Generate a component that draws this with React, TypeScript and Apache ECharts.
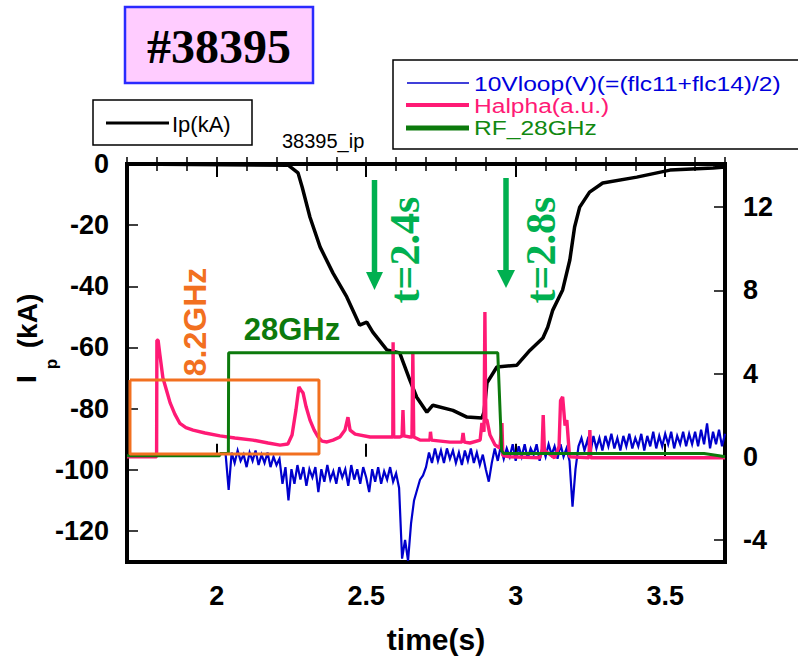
import React, { useEffect, useRef } from 'react';
import * as echarts from 'echarts';

// ---- data ----
const timeLabels = [2, 2.5, 3, 3.5];
const ipTicks = [-120, -100, -80, -60, -40, -20, 0];
const rightTicks = [-4, 0, 4, 8, 12];

// Ip (kA), left axis: [time s, kA]
const ipPoints: [number, number][] = [
  [1.70, 0], [2.239, -0.4], [2.272, -2.9], [2.286, -7.6], [2.312, -17.4], [2.346, -27.2],
  [2.389, -35.7], [2.435, -43.5], [2.478, -52.7], [2.502, -51.7], [2.522, -55.0], [2.569, -60.8],
  [2.612, -61.8], [2.646, -70.7], [2.669, -76.3], [2.703, -81.2], [2.723, -78.9], [2.790, -80.6],
  [2.837, -82.8], [2.887, -83.1], [2.894, -81.2], [2.904, -71.6], [2.937, -66.4], [3.004, -65.8],
  [3.048, -60.9], [3.091, -56.9], [3.107, -53.4], [3.124, -47.8], [3.157, -41.2], [3.181, -31.4],
  [3.197, -20.6], [3.214, -14.1], [3.247, -9.2], [3.291, -6.2], [3.405, -4.3], [3.516, -2.0],
  [3.660, -1.3], [3.70, -1.0],
];

// Halpha (a.u.), right axis
const halphaPoints: [number, number][] = [
  [1.70, 0.0], [1.75, 0.0], [1.799, 0.0], [1.80, 5.6], [1.804, 5.6], [1.81, 4.9], [1.82, 3.8],
  [1.834, 3.1], [1.844, 2.6], [1.86, 2.05], [1.877, 1.6], [1.897, 1.4], [1.921, 1.28], [1.961, 1.14],
  [2.011, 1.0], [2.061, 0.9], [2.121, 0.8], [2.172, 0.66], [2.212, 0.56], [2.238, 0.61], [2.252, 1.04],
  [2.265, 2.24], [2.275, 3.35], [2.282, 3.2], [2.289, 3.06], [2.299, 2.4], [2.312, 1.76], [2.326, 1.28],
  [2.339, 0.95], [2.352, 0.75], [2.369, 0.71], [2.389, 0.8], [2.412, 0.95], [2.429, 1.28], [2.439, 1.9],
  [2.446, 1.28], [2.463, 1.09], [2.513, 0.95], [2.546, 0.95], [2.586, 0.95], [2.589, 0.95], [2.590, 5.5],
  [2.592, 0.95], [2.613, 0.95], [2.620, 1.0], [2.623, 2.24], [2.626, 1.0], [2.646, 0.95], [2.653, 0.95],
  [2.656, 4.98], [2.659, 0.95], [2.68, 0.8], [2.713, 0.8], [2.715, 1.2], [2.718, 0.8], [2.78, 0.7],
  [2.82, 0.7], [2.824, 1.14], [2.828, 0.7], [2.847, 0.66], [2.881, 0.8], [2.887, 1.62], [2.894, 1.2],
  [2.897, 6.95], [2.900, 1.8], [2.904, 1.76], [2.914, 1.04], [2.931, 0.56], [2.947, 0.42], [2.954, 1.62],
  [2.957, 0.05], [2.98, 0.0], [3.08, -0.05], [3.088, 0.3], [3.092, 2.0], [3.096, 0.3], [3.13, -0.05],
  [3.145, 0.5], [3.150, 2.7], [3.157, 2.88], [3.165, 1.5], [3.171, 1.76], [3.18, 0.0], [3.245, -0.05],
  [3.248, 1.28], [3.251, -0.05], [3.70, -0.05],
];

// RF 28GHz, right axis
const rfPoints: [number, number][] = [
  [1.70, 0.05], [2.01, 0.05], [2.012, 0.15], [2.039, 0.15], [2.040, 5.0], [2.940, 5.0],
  [2.953, 0.3], [2.96, 0.15], [3.63, 0.15], [3.68, 0.05], [3.70, 0.0],
];

// 10Vloop (V), right axis, sampled every 0.01 s from 2.03 s
const vloopStart = 2.03;
const vloopStep = 0.01;
const vloopValues = [
  0.1, -1.6, 0.2, -0.3, 0.3, -0.2, 0.1, -0.5, 0.2, -0.2,
  0.3, -0.4, 0.1, -0.3, 0.2, -0.5, 0.0, -0.4, -0.1, -1.3,
  -0.5, -2.1, -0.6, -1.3, -0.4, -1.1, -0.5, -1.4, -0.6, -1.0,
  -0.5, -1.7, -0.6, -1.2, -0.4, -1.1, -0.7, -1.3, -0.5, -1.0,
  -0.6, -1.4, -0.4, -1.1, -0.6, -1.3, -0.5, -1.0, -1.7, -0.6,
  -1.2, -0.5, -1.3, -0.7, -1.1, -0.5, -1.2, -0.8, -1.5, -4.9,
  -4.0, -5.0, -3.2, -2.1, -1.6, -1.1, -0.9, -0.5, 0.2, -0.3,
  0.4, -0.2, 0.3, -0.3, 0.4, -0.1, 0.3, -0.3, 0.2, -0.4,
  0.3, -0.2, 0.4, -0.3, 0.2, -0.4, 0.1, -0.6, -1.2, -0.3,
  0.4, -0.2, 0.5, -0.1, 0.4, 0.0, 0.6, -0.2, 0.5, 0.0,
  0.6, -0.1, 0.4, 0.1, 0.6, -0.2, 0.5, 0.0, 0.6, 0.1,
  0.5, -0.1, 0.6, 0.0, 0.4, -0.2, -2.4, -0.6, 0.5, 0.9,
  0.3, 0.8, 0.2, 1.0, 0.4, 0.9, 0.3, 1.0, 0.5, 1.1,
  0.4, 0.9, 0.3, 1.0, 0.5, 1.1, 0.4, 0.9, 0.5, 1.1,
  0.3, 1.0, 0.5, 1.2, 0.4, 1.0, 0.5, 1.1, 0.6, 1.2,
  0.4, 1.0, 0.6, 1.2, 0.5, 1.1, 0.6, 1.2, 0.5, 1.3,
  0.6, 1.6, 0.4, 1.2, 0.6, 1.3, 0.5, 1.1,
];

// 8.2GHz window box, right axis: [time, value]
const box82Points: [number, number][] = [
  [1.71, 3.69], [2.342, 3.69], [2.342, 0.13], [1.71, 0.13], [1.71, 3.69],
];

const C_BLUE = '#0000cc';
const C_PINK = '#ff1a75';
const C_GREEN = '#0c7a0c';
const C_ORANGE = '#f27020';
const C_ARROW = '#00b050';
const SANS = '"Liberation Sans", Arial, sans-serif';
const SERIF = '"Liberation Serif", "Times New Roman", serif';

export default function App() {
  const ref = useRef<HTMLDivElement>(null);
  useEffect(() => {
    const chart = echarts.init(ref.current!, null, { renderer: 'svg' });
    const vloopData = vloopValues.map((v, i) => [vloopStart + i * vloopStep, v]);
    const isHalf = (v: number) => Math.abs(v * 2 - Math.round(v * 2)) < 1e-6;
    const xBase = {
      type: 'value', min: 1.7, max: 3.7,
      axisLine: { show: false }, splitLine: { show: false },
    };
    const legendFont = `21px ${SANS}`;
    const option: any = {
      animation: false,
      backgroundColor: '#fff',
      grid: {
        left: 127, top: 164, right: 73, bottom: 94,
        show: true, borderColor: '#000', borderWidth: 4, backgroundColor: 'transparent',
      },
      xAxis: [
        { ...xBase, position: 'bottom', interval: 0.1,
          axisTick: { inside: true, length: 7, lineStyle: { color: '#000', width: 1.5 } },
          axisLabel: { show: false } },
        { ...xBase, position: 'bottom',
          axisTick: { inside: true, length: 13, customValues: timeLabels, lineStyle: { color: '#000', width: 2 } },
          axisLabel: { customValues: timeLabels, margin: 20, color: '#000', fontSize: 27, fontWeight: 'bold', fontFamily: SANS,
            formatter: (v: number) => (isHalf(v) ? String(v) : '') } },
        { ...xBase, position: 'top', interval: 0.1,
          axisTick: { inside: true, length: 7, lineStyle: { color: '#000', width: 1.5 } },
          axisLabel: { show: false } },
        { ...xBase, position: 'top',
          axisTick: { inside: true, length: 13, customValues: timeLabels, lineStyle: { color: '#000', width: 2 } },
          axisLabel: { show: false } },
      ],
      yAxis: [
        { type: 'value', position: 'left', min: -130.2, max: 0,
          axisLine: { show: false }, splitLine: { show: false },
          axisTick: { inside: true, length: 11, customValues: ipTicks, lineStyle: { color: '#000', width: 1.5 } },
          axisLabel: { customValues: ipTicks, margin: 18, color: '#000', fontSize: 27, fontWeight: 'bold', fontFamily: SANS } },
        { type: 'value', position: 'right', min: -5.06, max: 14.07,
          axisLine: { show: false }, splitLine: { show: false },
          axisTick: { inside: true, length: 11, customValues: rightTicks, lineStyle: { color: '#000', width: 1.5 } },
          axisLabel: { customValues: rightTicks, margin: 18, color: '#000', fontSize: 27, fontWeight: 'bold', fontFamily: SANS } },
      ],
      series: [
        { name: '10Vloop(V)(=(flc11+flc14)/2)', type: 'line', xAxisIndex: 0, yAxisIndex: 1, data: vloopData,
          showSymbol: false, symbol: 'none', z: 2, lineStyle: { color: C_BLUE, width: 2.2, join: 'miter' } },
        { name: 'Ip(kA)', type: 'line', xAxisIndex: 0, yAxisIndex: 0, data: ipPoints,
          showSymbol: false, symbol: 'none', z: 3, lineStyle: { color: '#000', width: 3.5 } },
        { name: 'Halpha(a.u.)', type: 'line', xAxisIndex: 0, yAxisIndex: 1, data: halphaPoints,
          showSymbol: false, symbol: 'none', z: 4, lineStyle: { color: C_PINK, width: 3.4 } },
        { name: 'RF_28GHz', type: 'line', xAxisIndex: 0, yAxisIndex: 1, data: rfPoints,
          showSymbol: false, symbol: 'none', z: 5, lineStyle: { color: C_GREEN, width: 3 } },
        { name: '8.2GHz', type: 'line', xAxisIndex: 0, yAxisIndex: 1, data: box82Points,
          showSymbol: false, symbol: 'none', z: 5, lineStyle: { color: C_ORANGE, width: 3 } },
      ],
      graphic: [
        // title box
        { type: 'rect', shape: { x: 125, y: 7, width: 188, height: 76 },
          style: { fill: '#ffccff', stroke: '#2a2aff', lineWidth: 2.5 } },
        { type: 'text', x: 219, y: 46, style: { text: '#38395', fill: '#000', font: `bold 48px ${SERIF}`,
          textAlign: 'center', textVerticalAlign: 'middle' } },
        // legend Ip
        { type: 'rect', shape: { x: 93, y: 100, width: 159, height: 45 },
          style: { fill: '#fff', stroke: '#000', lineWidth: 1.5 } },
        { type: 'line', shape: { x1: 106, y1: 123, x2: 169, y2: 123 }, style: { stroke: '#000', lineWidth: 3 } },
        { type: 'text', x: 172, y: 124, style: { text: 'Ip(kA)', fill: '#000', font: `22px ${SANS}`, textVerticalAlign: 'middle' } },
        { type: 'text', x: 282, y: 141, style: { text: '38395_ip', fill: '#000', font: `20px ${SANS}`, textVerticalAlign: 'middle' } },
        // legend 2
        { type: 'rect', shape: { x: 393, y: 60, width: 420, height: 89 },
          style: { fill: '#fff', stroke: '#000', lineWidth: 1.5 } },
        { type: 'line', shape: { x1: 407, y1: 83, x2: 469, y2: 83 }, style: { stroke: C_BLUE, lineWidth: 1.5 } },
        { type: 'line', shape: { x1: 406, y1: 105, x2: 469, y2: 105 }, style: { stroke: C_PINK, lineWidth: 4 } },
        { type: 'line', shape: { x1: 406, y1: 128, x2: 469, y2: 128 }, style: { stroke: C_GREEN, lineWidth: 5 } },
        { type: 'text', x: 474, y: 84, scaleX: 1.17, style: { text: '10Vloop(V)(=(flc11+flc14)/2)', fill: '#0000dd', font: legendFont, textVerticalAlign: 'middle' } },
        { type: 'text', x: 474, y: 106, scaleX: 1.17, style: { text: 'Halpha(a.u.)', fill: C_PINK, font: legendFont, textVerticalAlign: 'middle' } },
        { type: 'text', x: 474, y: 128, scaleX: 1.17, style: { text: 'RF_28GHz', fill: '#118811', font: legendFont, textVerticalAlign: 'middle' } },
        // axis names
        { type: 'text', x: 436, y: 639, style: { text: 'time(s)', fill: '#000', font: `bold 30px ${SANS}`, textAlign: 'center', textVerticalAlign: 'middle' } },
        { type: 'text', x: 26, y: 379, rotation: Math.PI / 2, style: { text: 'I', fill: '#000', font: `bold 28px ${SANS}`, textAlign: 'center', textVerticalAlign: 'middle' } },
        { type: 'text', x: 51, y: 364, rotation: Math.PI / 2, style: { text: 'p', fill: '#000', font: `bold 17px ${SANS}`, textAlign: 'center', textVerticalAlign: 'middle' } },
        { type: 'text', x: 27, y: 321, rotation: Math.PI / 2, style: { text: '(kA)', fill: '#000', font: `bold 28px ${SANS}`, textAlign: 'center', textVerticalAlign: 'middle' } },
        // annotations
        { type: 'text', x: 195, y: 322, rotation: Math.PI / 2, style: { text: '8.2GHz', fill: C_ORANGE, font: `bold 32px ${SANS}`, textAlign: 'center', textVerticalAlign: 'middle' } },
        { type: 'text', x: 292, y: 329, style: { text: '28GHz', fill: C_GREEN, font: `bold 31px ${SANS}`, textAlign: 'center', textVerticalAlign: 'middle' } },
        { type: 'line', shape: { x1: 374.5, y1: 180, x2: 374.5, y2: 274 }, style: { stroke: C_ARROW, lineWidth: 5.5 } },
        { type: 'polygon', shape: { points: [[366, 272], [383, 272], [374.5, 290]] }, style: { fill: C_ARROW } },
        { type: 'text', x: 405, y: 250, rotation: Math.PI / 2, style: { text: 't=2.4s', fill: C_ARROW, font: `bold 42px ${SERIF}`, textAlign: 'center', textVerticalAlign: 'middle' } },
        { type: 'line', shape: { x1: 506, y1: 178, x2: 506, y2: 272 }, style: { stroke: C_ARROW, lineWidth: 5.5 } },
        { type: 'polygon', shape: { points: [[497, 270], [515, 270], [506, 288]] }, style: { fill: C_ARROW } },
        { type: 'text', x: 541, y: 250, rotation: Math.PI / 2, style: { text: 't=2.8s', fill: C_ARROW, font: `bold 42px ${SERIF}`, textAlign: 'center', textVerticalAlign: 'middle' } },
      ],
    };
    chart.setOption(option);
    return () => chart.dispose();
  }, []);
  return (
    <div
      ref={ref}
      style={{ position: 'absolute', left: 0, top: 0, width: 798, height: 656, background: '#fff' }}
    />
  );
}
